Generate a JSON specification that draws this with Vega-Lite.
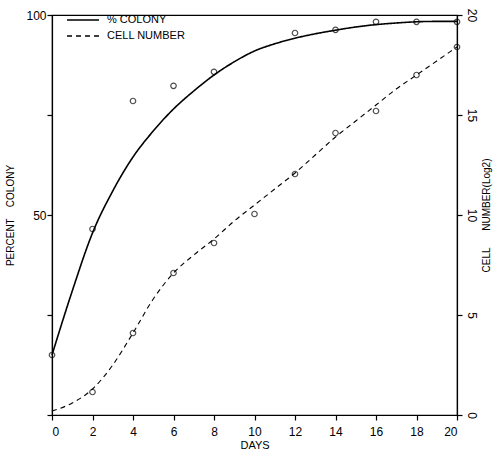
{
  "$schema": "https://vega.github.io/schema/vega-lite/v6.json",
  "autosize": "none",
  "width": 405,
  "height": 400,
  "padding": {"left": 52, "top": 15, "right": 42, "bottom": 45},
  "background": "white",
  "config": {
    "font": "Liberation Sans",
    "view": {"stroke": "black", "strokeWidth": 1.2},
    "axis": {"grid": false, "domainColor": "black", "tickColor": "black", "labelColor": "black", "titleColor": "black", "labelFont": "Liberation Sans", "titleFont": "Liberation Sans", "labelFontSize": 12, "titleFontSize": 11, "titleFontWeight": "normal", "tickSize": 5, "domainWidth": 1.2, "tickWidth": 1.2}
  },
  "datasets": {
    "colonyPts": [
      {"day": 0, "value": 15}, {"day": 2, "value": 46.5}, {"day": 4, "value": 78.5}, {"day": 6, "value": 82.3}, {"day": 8, "value": 85.8},
      {"day": 12, "value": 95.5}, {"day": 14, "value": 96.3}, {"day": 16, "value": 98.3}, {"day": 18, "value": 98.3}, {"day": 20, "value": 98.3}
    ],
    "colonyFit": [
      {"day": 0, "value": 15, "series": "% COLONY"}, {"day": 1, "value": 31, "series": "% COLONY"}, {"day": 2, "value": 45.5, "series": "% COLONY"},
      {"day": 3, "value": 56, "series": "% COLONY"}, {"day": 4, "value": 64.5, "series": "% COLONY"}, {"day": 5, "value": 71, "series": "% COLONY"},
      {"day": 6, "value": 76.5, "series": "% COLONY"}, {"day": 7, "value": 81, "series": "% COLONY"}, {"day": 8, "value": 85, "series": "% COLONY"},
      {"day": 9, "value": 88.3, "series": "% COLONY"}, {"day": 10, "value": 91, "series": "% COLONY"}, {"day": 11, "value": 92.8, "series": "% COLONY"},
      {"day": 12, "value": 94.2, "series": "% COLONY"}, {"day": 13, "value": 95.3, "series": "% COLONY"}, {"day": 14, "value": 96.2, "series": "% COLONY"},
      {"day": 15, "value": 97, "series": "% COLONY"}, {"day": 16, "value": 97.6, "series": "% COLONY"}, {"day": 17, "value": 98, "series": "% COLONY"},
      {"day": 18, "value": 98.3, "series": "% COLONY"}, {"day": 19, "value": 98.4, "series": "% COLONY"}, {"day": 20, "value": 98.4, "series": "% COLONY"}
    ],
    "cellPts": [
      {"day": 2, "value": 1.15}, {"day": 4, "value": 4.1}, {"day": 6, "value": 7.1}, {"day": 8, "value": 8.6}, {"day": 10, "value": 10.05},
      {"day": 12, "value": 12.05}, {"day": 14, "value": 14.1}, {"day": 16, "value": 15.2}, {"day": 18, "value": 17.0}, {"day": 20, "value": 18.4}
    ],
    "cellFit": [
      {"day": 0, "value": 0.2, "series": "CELL NUMBER"}, {"day": 1, "value": 0.6, "series": "CELL NUMBER"}, {"day": 2, "value": 1.3, "series": "CELL NUMBER"},
      {"day": 3, "value": 2.5, "series": "CELL NUMBER"}, {"day": 4, "value": 4.1, "series": "CELL NUMBER"}, {"day": 5, "value": 5.8, "series": "CELL NUMBER"},
      {"day": 6, "value": 7.1, "series": "CELL NUMBER"}, {"day": 7, "value": 8.0, "series": "CELL NUMBER"}, {"day": 8, "value": 8.8, "series": "CELL NUMBER"},
      {"day": 9, "value": 9.7, "series": "CELL NUMBER"}, {"day": 10, "value": 10.5, "series": "CELL NUMBER"}, {"day": 11, "value": 11.3, "series": "CELL NUMBER"},
      {"day": 12, "value": 12.1, "series": "CELL NUMBER"}, {"day": 13, "value": 13.0, "series": "CELL NUMBER"}, {"day": 14, "value": 13.9, "series": "CELL NUMBER"},
      {"day": 15, "value": 14.7, "series": "CELL NUMBER"}, {"day": 16, "value": 15.5, "series": "CELL NUMBER"}, {"day": 17, "value": 16.3, "series": "CELL NUMBER"},
      {"day": 18, "value": 17.0, "series": "CELL NUMBER"}, {"day": 19, "value": 17.7, "series": "CELL NUMBER"}, {"day": 20, "value": 18.4, "series": "CELL NUMBER"}
    ]
  },
  "encoding": {
    "x": {
      "field": "day", "type": "quantitative",
      "scale": {"domain": [0, 20], "nice": false},
      "axis": {"values": [0, 2, 4, 6, 8, 10, 12, 14, 16, 18, 20], "title": "DAYS", "labelPadding": 6, "titlePadding": 2, "titleFontSize": 11}
    }
  },
  "layer": [
    {
      "encoding": {
        "y": {
          "field": "value", "type": "quantitative",
          "scale": {"domain": [0, 100], "nice": false},
          "axis": {"orient": "left", "values": [0, 25, 50, 75, 100], "labelExpr": "datum.value == 50 || datum.value == 100 ? datum.label : ''", "title": "PERCENT\u00a0\u00a0\u00a0\u00a0COLONY", "titlePadding": 10, "labelPadding": 1, "titleFontSize": 10}
        }
      },
      "layer": [
        {
          "data": {"name": "colonyFit"},
          "mark": {"type": "line", "interpolate": "monotone", "color": "black", "strokeWidth": 1.6},
          "encoding": {
            "strokeDash": {
              "field": "series", "type": "nominal",
              "scale": {"domain": ["% COLONY", "CELL NUMBER"], "range": [[1, 0], [5, 4]]},
              "legend": {"title": null, "orient": "none", "legendX": 22, "legendY": -4, "symbolType": "M-2,0H2", "symbolSize": 256, "symbolStrokeColor": "black", "symbolStrokeWidth": 1.3, "labelFontSize": 11, "labelFont": "Liberation Sans", "labelColor": "black", "rowPadding": 2, "labelOffset": 15}
            }
          }
        },
        {
          "data": {"name": "colonyPts"},
          "mark": {"type": "point", "shape": "circle", "filled": false, "color": "black", "size": 30, "strokeWidth": 1.2},
          "encoding": {}
        }
      ]
    },
    {
      "encoding": {
        "y": {
          "field": "value", "type": "quantitative",
          "scale": {"domain": [0, 20], "nice": false},
          "axis": {"orient": "right", "values": [0, 5, 10, 15, 20], "labelAngle": 90, "labelAlign": "center", "labelBaseline": "middle", "labelPadding": 9, "title": "CELL\u00a0\u00a0\u00a0\u00a0\u00a0\u00a0NUMBER(Log2)", "titleAngle": 270, "titlePadding": 14, "titleFontSize": 10}
        }
      },
      "layer": [
        {
          "data": {"name": "cellFit"},
          "mark": {"type": "line", "interpolate": "monotone", "color": "black", "strokeWidth": 1.1},
          "encoding": {
            "strokeDash": {"field": "series", "type": "nominal"}
          }
        },
        {
          "data": {"name": "cellPts"},
          "mark": {"type": "point", "shape": "circle", "filled": false, "color": "black", "size": 30, "strokeWidth": 1.2},
          "encoding": {}
        }
      ]
    }
  ],
  "resolve": {"scale": {"y": "independent"}}
}
